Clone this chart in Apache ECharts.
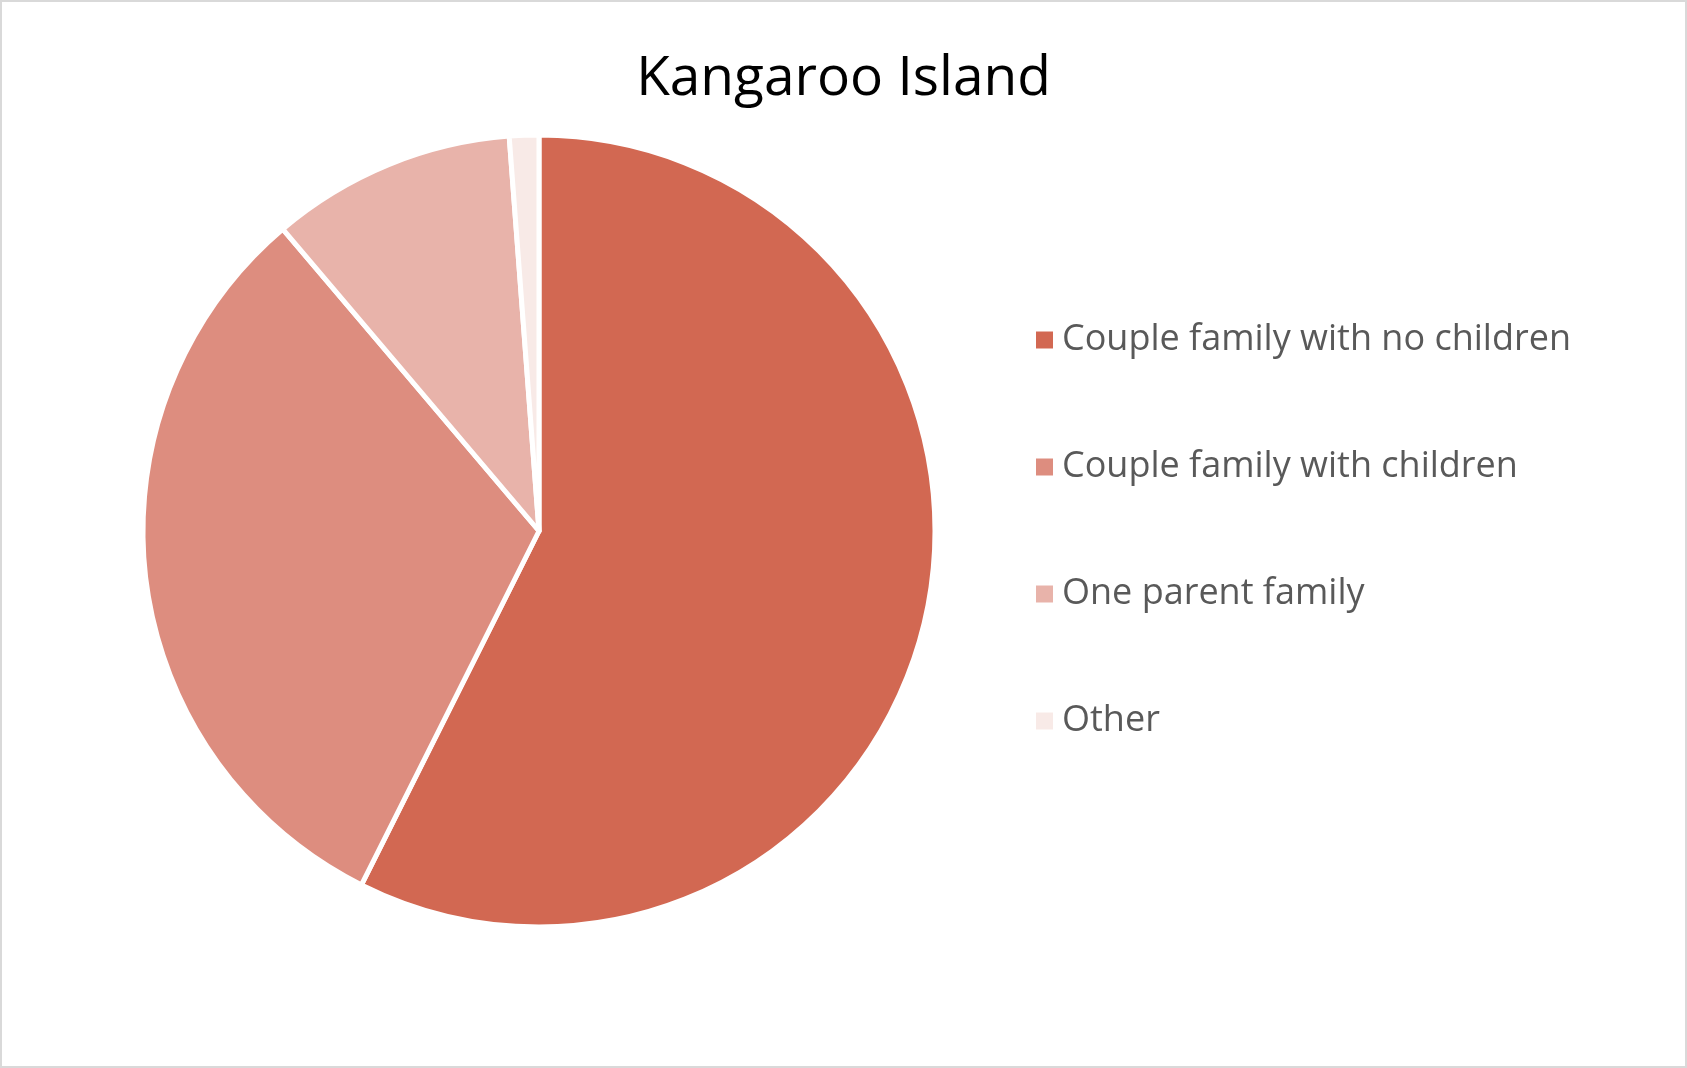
<!DOCTYPE html>
<html>
<head>
<meta charset="utf-8">
<title>Kangaroo Island</title>
<script src="https://cdn.jsdelivr.net/npm/echarts@6/dist/echarts.min.js"></script>
<style>
  html, body { margin: 0; padding: 0; background: #fff; }
  #chart {
    width: 1687px;
    height: 1068px;
    box-sizing: border-box;
    border: 2px solid #D9D9D9;
  }
</style>
</head>
<body>
<div id="chart"></div>
<script>
const categories = [
  'Couple family with no children',
  'Couple family with children',
  'One parent family',
  'Other'
];
const shares = [57.4, 31.4, 10.0, 1.2];
const colors = ['#D26852', '#DD8D7F', '#E8B3AA', '#F8EAE7'];

const myChart = echarts.init(document.getElementById('chart'));

const option = {
  color: colors,
  animation: false,
  title: {
    text: 'Kangaroo Island',
    left: 'center',
    top: 45,
    textStyle: {
      fontFamily: 'Open Sans',
      fontSize: 55,
      fontWeight: 'normal',
      color: '#000'
    }
  },
  legend: {
    orient: 'vertical',
    left: 1029,
    top: 314,
    icon: 'rect',
    itemWidth: 17,
    itemHeight: 17,
    itemGap: 89,
    itemStyle: { borderWidth: 0 },
    textStyle: {
      fontFamily: 'Open Sans',
      fontSize: 36,
      lineHeight: 38,
      color: '#595959',
      padding: [0, 0, 0, 4]
    },
    data: categories
  },
  series: [
    {
      type: 'pie',
      center: [537, 529],
      radius: 396,
      startAngle: 90,
      clockwise: true,
      label: { show: false },
      labelLine: { show: false },
      itemStyle: {
        borderColor: '#fff',
        borderWidth: 5
      },
      emphasis: { disabled: true },
      data: categories.map((name, i) => ({ name: name, value: shares[i] }))
    }
  ]
};

myChart.setOption(option);
</script>
</body>
</html>
